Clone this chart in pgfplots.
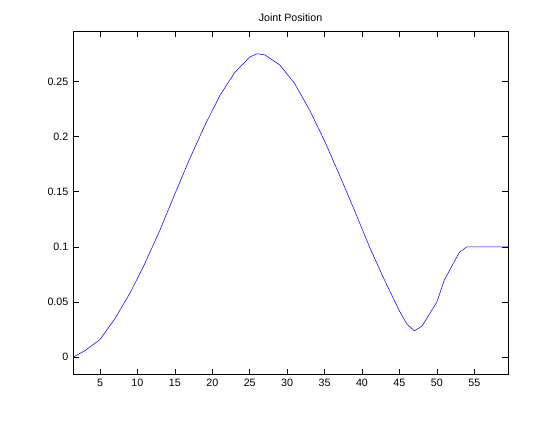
\documentclass[border=0pt]{standalone}
\usepackage{pgfplots}
\pgfplotsset{compat=1.18}
\usepackage{fontspec}
\setmainfont{Liberation Sans}
\begin{document}
\begin{tikzpicture}
\path (-54.75pt,-34.5pt) rectangle (365pt,280.5pt);
\begin{axis}[at={(0,0)},anchor=south west,scale only axis,width=326pt,height=257pt,
xmin=1.4,xmax=59.5,ymin=-0.0154,ymax=0.2953,
xtick={5,10,...,55},ytick={0,0.05,...,0.25},
yticklabels={0,0.05,0.1,0.15,0.2,0.25},
tick align=inside,tick style={black,thin},
/pgf/number format/assume math mode=true,
ticklabel style={font=\fontsize{8}{9}\selectfont},
title={Joint Position},title style={font=\fontsize{8}{9}\selectfont,yshift=-2pt},
axis line style={black},]
\addplot[blue,thin] coordinates {(1.4,0) (3,0.006) (5,0.016) (7,0.035) (9,0.058) (11,0.085) (13,0.115) (15,0.148) (17,0.18) (19,0.21) (21,0.237) (23,0.258) (25,0.272) (26,0.275) (27,0.274) (29,0.265) (31,0.248) (33,0.224) (35,0.196) (37,0.165) (39,0.133) (41,0.1) (43,0.07) (45,0.042) (46,0.03) (47,0.024) (48,0.028) (50,0.05) (51,0.07) (53,0.095) (54,0.1) (59.5,0.1)};
\end{axis}
\end{tikzpicture}
\end{document}
